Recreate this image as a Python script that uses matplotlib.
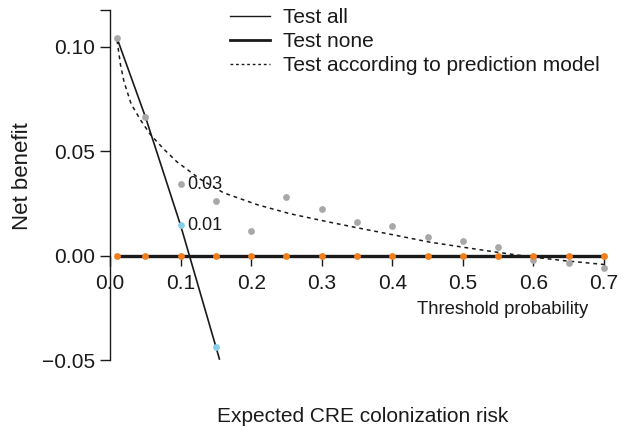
import matplotlib
matplotlib.use("Agg")
import matplotlib.pyplot as plt
from matplotlib.lines import Line2D

plt.rcParams['font.family'] = ['Liberation Sans', 'DejaVu Sans']

# thresholds at which points are shown
thresholds = [0.01, 0.05, 0.10, 0.15, 0.20, 0.25, 0.30, 0.35, 0.40, 0.45,
              0.50, 0.55, 0.60, 0.65, 0.70]
# grey points (observed net benefit)
grey_nb = [0.104, 0.0665, 0.034, 0.026, 0.0115, 0.028, 0.0224, 0.0159, 0.0142,
           0.0091, 0.0070, 0.0040, -0.0021, -0.0037, -0.0062]
# orange points (test none, net benefit 0)
none_nb = [0.0] * len(thresholds)
# blue points on the test-all line
blue_x = [0.10, 0.15]
blue_nb = [0.0145, -0.0436]

# Test all line
all_x = [0.01, 0.05, 0.10, 0.15, 0.155]
all_nb = [0.104, 0.0665, 0.0145, -0.0436, -0.0495]

# Test according to prediction model (dotted curve)
model_x = [0.01, 0.0125, 0.015, 0.02, 0.03, 0.043, 0.057, 0.076, 0.095, 0.128,
           0.161, 0.208, 0.255, 0.312, 0.359, 0.406, 0.453, 0.500, 0.548, 0.595,
           0.642, 0.70]
model_nb = [0.103, 0.097, 0.091, 0.083, 0.0725, 0.065, 0.058, 0.051, 0.0448,
            0.0365, 0.030, 0.0244, 0.020, 0.0159, 0.0127, 0.0096, 0.0064, 0.0040,
            0.0016, -0.0006, -0.0024, -0.0043]

# Test none line
none_x = [0.01, 0.70]
none_line = [0.0, 0.0]

annot_text = ["0.03", "0.01"]
annot_x = [0.10, 0.10]
annot_y = [0.034, 0.0145]

xticks = [0.0, 0.1, 0.2, 0.3, 0.4, 0.5, 0.6, 0.7]
xticklabels = ["0.0", "0.1", "0.2", "0.3", "0.4", "0.5", "0.6", "0.7"]
yticks = [-0.05, 0.0, 0.05, 0.10]
yticklabels = ["\u22120.05", "0.00", "0.05", "0.10"]

ink = '#1a1a1a'

fig = plt.figure(figsize=(6.25, 4.3), dpi=100)
ax = fig.add_axes([110/625, 1 - 360/430, (604-110)/625, 350/430])
ax.set_xlim(0.0, 0.7)
ax.set_ylim(-0.05, 0.1175)

ax.plot(all_x, all_nb, color=ink, lw=1.2, zorder=3, clip_on=False)
ax.plot(none_x, none_line, color=ink, lw=2.4, zorder=3, clip_on=False)
ax.plot(model_x, model_nb, color=ink, lw=1.1, ls=(0, (2.5, 2.5)), zorder=3, clip_on=False)

ax.scatter(thresholds, grey_nb, s=24, color='#a8a8a8', zorder=4, clip_on=False, linewidths=0)
ax.scatter(thresholds, none_nb, s=24, color='#f07f1c', zorder=5, clip_on=False, linewidths=0)
ax.scatter(blue_x, blue_nb, s=24, color='#87ceeb', zorder=5, clip_on=False, linewidths=0)

for t, x, y in zip(annot_text, annot_x, annot_y):
    ax.annotate(t, (x, y), xytext=(5, 0), textcoords='offset points',
                va='center', ha='left', fontsize=13, color=ink)

for s in ['top', 'right']:
    ax.spines[s].set_visible(False)
ax.spines['bottom'].set_position(('data', 0))
ax.spines['bottom'].set_visible(False)
ax.spines['left'].set_color(ink)
ax.spines['left'].set_linewidth(1.0)

ax.set_xticks(xticks)
ax.set_xticklabels(xticklabels)
ax.set_yticks(yticks)
ax.set_yticklabels(yticklabels)
ax.set_yticks([0.1175], minor=True)
ax.tick_params(axis='y', which='minor', length=7, width=1.0, color=ink)
ax.tick_params(axis='both', which='major', length=7, width=1.0, color=ink,
               labelsize=15, labelcolor=ink)
ax.tick_params(axis='x', which='major', pad=6)
ax.tick_params(axis='y', which='major', pad=4)

fig.text(23/625, 1 - 176/430, "Net benefit", fontsize=16, rotation=90,
         ha='center', va='center', color=ink)
fig.text(503/625, 1 - 309/430, "Threshold probability", fontsize=13.3,
         ha='center', va='center', color=ink)
fig.text(363/625, 1 - 416/430, "Expected CRE colonization risk", fontsize=15,
         ha='center', va='center', color=ink)

handles = [Line2D([], [], color=ink, lw=1.0),
           Line2D([], [], color=ink, lw=2.0),
           Line2D([], [], color=ink, lw=1.0, ls=(0, (2, 2)))]
labels = ["Test all", "Test none", "Test according to prediction model"]
leg = fig.legend(handles, labels, loc='upper left', bbox_to_anchor=(230/625, 1 - 8/430),
                 frameon=False, fontsize=15, handlelength=1.92, handletextpad=0.62,
                 labelspacing=0.25, borderaxespad=0, borderpad=0)
for t in leg.get_texts():
    t.set_color(ink)

fig.savefig("out.png", dpi=100)
